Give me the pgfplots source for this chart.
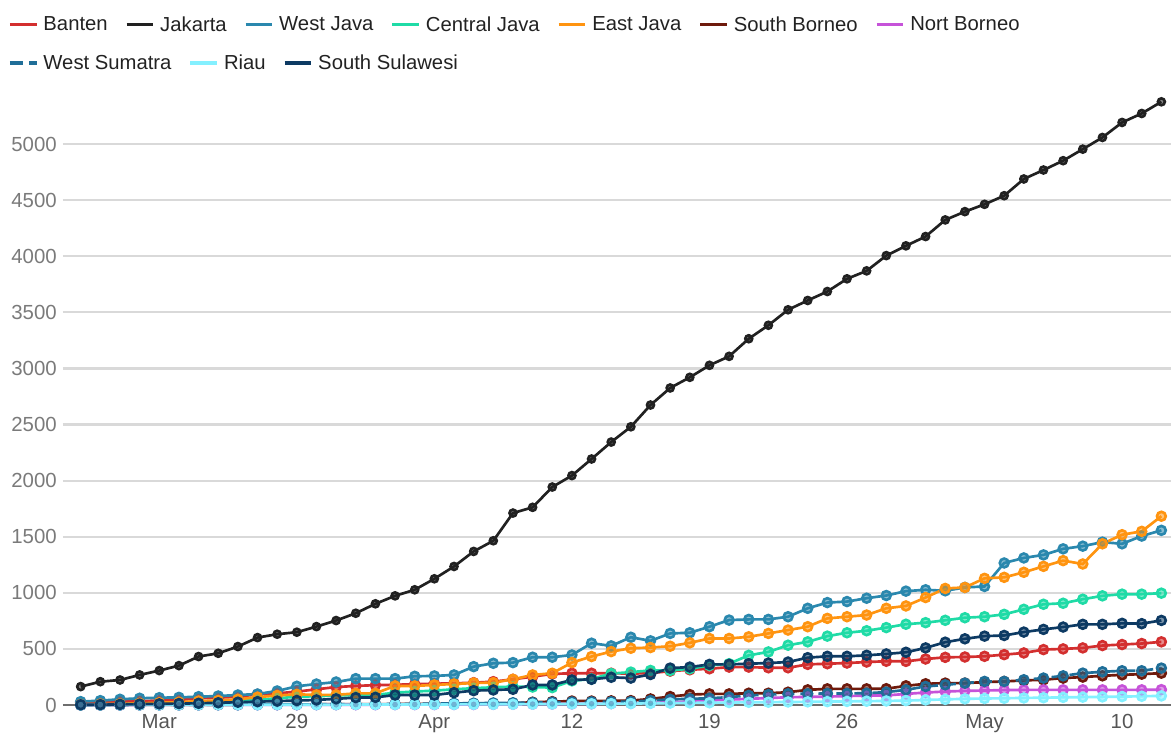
\documentclass[border=0pt]{standalone}
\usepackage{pgfplots}
\pgfplotsset{compat=1.18}
\usepackage{pgfplotstable}
\usepackage{fontspec}
\setmainfont{Liberation Sans}

\definecolor{cBanten}{HTML}{D32F2F}
\definecolor{cJakarta}{HTML}{212121}
\definecolor{cWJava}{HTML}{2A88AE}
\definecolor{cCJava}{HTML}{1FDBA6}
\definecolor{cEJava}{HTML}{FF9410}
\definecolor{cSBorneo}{HTML}{6E1A0C}
\definecolor{cNBorneo}{HTML}{C653D9}
\definecolor{cWSumatra}{HTML}{1F6E98}
\definecolor{cRiau}{HTML}{84F0FF}
\definecolor{cSSulawesi}{HTML}{0D3A63}
\definecolor{gridmajor}{HTML}{D9D9D9}
\definecolor{gridminor}{HTML}{E4E4E4}
\definecolor{axisgray}{HTML}{6E6E6E}
\definecolor{ylab}{HTML}{7A7A7A}
\definecolor{xlab}{HTML}{555555}
\definecolor{legtext}{HTML}{222222}

% day index 0 = 18 Mar
\pgfplotstableread{
d  B   J    WJ   CJ  EJ   SB  NB  WS  R   SS
0  21  164  30   2   5    0   0   0   0   2
1  25  208  39   5   8    0   0   0   0   3
2  30  223  51   8   10   1   0   0   1   5
3  35  268  60   10  15   1   1   1   1   8
4  39  307  65   12  20   2   1   1   1   10
5  45  351  68   15  25   2   1   1   1   13
6  60  432  74   20  35   2   1   2   1   15
7  65  461  80   25  40   3   2   3   2   20
8  74  521  89   35  51   3   2   3   2   25
9  95  601  98   45  70   4   2   4   2   30
10 104 631  125  60  85   5   2   5   3   35
11 119 649  167  74  95   5   2   5   3   40
12 140 699  187  78  90   6   3   6   3   45
13 160 753  205  85  90   6   3   7   3   55
14 170 818  235  89  104  7   3   8   4   66
15 177 902  235  89  104  8   3   8   4   68
16 180 973  235  110 170  8   4   9   4   89
17 186 1027 256  120 170  9   4   10  5   89
18 190 1125 259  128 179  10  4   12  5   89
19 193 1235 268  140 187  10  5   14  5   110
20 199 1369 342  150 196  11  5   16  6   128
21 208 1464 372  158 199  12  6   18  6   134
22 229 1711 378  164 229  15  7   20  7   140
23 253 1762 426  160 268  25  8   22  8   179
24 277 1943 426  155 283  30  9   25  9   179
25 283 2045 446  215 378  35  10  27  10  223
26 283 2193 551  232 432  35  11  28  11  229
27 283 2344 527  280 476  37  13  29  12  247
28 280 2480 604  293 506  39  15  30  13  240
29 284 2674 572  308 512  54  18  40  15  272
30 302 2826 638  308 524  75  25  50  17  329
31 314 2921 644  323 554  93  30  55  19  338
32 323 3028 698  353 593  99  40  60  20  362
33 338 3108 757  368 593  99  48  70  22  362
34 338 3265 763  443 608  105 55  85  24  368
35 332 3385 763  473 638  105 62  93  25  374
36 332 3523 787  533 668  114 69  100 27  383
37 362 3606 862  563 698  135 72  100 28  422
38 368 3686 913  614 772  144 75  103 30  434
39 374 3799 922  644 787  144 80  103 32  434
40 383 3870 952  662 802  144 84  105 34  443
41 390 4006 976  690 862  145 85  115 36  455
42 389 4093 1015 720 883  171 99  135 39  470
43 410 4176 1027 734 958  189 111 165 45  509
44 425 4324 1018 755 1039 195 120 180 50  560
45 428 4398 1048 778 1048 195 126 195 55  590
46 434 4463 1057 787 1129 204 129 210 58  614
47 449 4540 1266 808 1138 210 133 210 60  620
48 464 4689 1311 853 1183 219 135 225 63  650
49 494 4769 1338 898 1236 225 135 240 65  674
50 500 4852 1392 907 1287 240 135 260 68  695
51 509 4955 1416 943 1257 249 135 284 70  719
52 530 5059 1452 973 1437 260 135 296 72  719
53 539 5193 1437 988 1518 269 135 305 75  728
54 548 5273 1506 988 1548 275 135 305 78  725
55 563 5377 1557 997 1683 284 137 329 81  754
}\cases

\pgfplotsset{
  ser/.style={color=#1, line width=2pt, mark=*, mark size=3.3pt,
    mark options={solid, draw=none, fill=#1, fill opacity=0.55}},
  frame/.style={at={(0,0)}, anchor=south west, scale only axis,
    width=831pt, height=462.75pt},
  legbase/.style={legend style={at={(0,1)}, anchor=west, xshift=-41.25pt,
    draw=none, fill=none, inner sep=0pt, text=legtext,
    font=\fontsize{15.2}{18}\selectfont,
    /tikz/every odd column/.append style={column sep=2pt},
    /tikz/every even column/.append style={column sep=11pt}},
    legend image code/.code={\draw[##1, line width=2.4pt] (0pt,0pt) -- (20pt,0pt);}},
}

\begin{document}
\begin{tikzpicture}
\useasboundingbox (-47.25pt,-21pt) rectangle (831pt,528.75pt);
\begin{axis}[frame,
  xmin=-0.9, xmax=55.49, ymin=0, ymax=5500,
  axis x line*=bottom, axis y line*=left,
  y axis line style={draw=none},
  x axis line style={-, draw=axisgray, line width=1.6pt},
  major tick length=0pt,
  xtick={4,11,18,25,32,39,46,53},
  xticklabels={Mar,29,Apr,12,19,26,May,10},
  ytick={0,1000,...,5000},
  extra y ticks={500,1500,2500,3500,4500},
  ymajorgrids,
  major grid style={gridmajor, line width=1.6pt},
  extra y tick style={grid style={gridminor, line width=1.1pt}},
  /pgf/number format/assume math mode=true,
  /pgf/number format/1000 sep={},
  scaled y ticks=false,
  tick label style={font=\fontsize{15.3}{17}\selectfont},
  yticklabel style={text=ylab, inner sep=0pt, xshift=-4.5pt},
  xticklabel style={text=xlab, inner sep=0pt, yshift=-7pt},
  clip=false,
  legbase, legend style={yshift=47.5pt}, legend columns=7,
]
\addplot[ser=cBanten] table[x=d, y=B] {\cases};
\addplot[ser=cJakarta, mark size=2.6pt] table[x=d, y=J] {\cases};
\addplot[ser=cWJava] table[x=d, y=WJ] {\cases};
\addplot[ser=cCJava] table[x=d, y=CJ] {\cases};
\addplot[ser=cEJava] table[x=d, y=EJ] {\cases};
\addplot[ser=cSBorneo] table[x=d, y=SB] {\cases};
\addplot[ser=cNBorneo] table[x=d, y=NB] {\cases};
\addplot[ser=cWSumatra, dash pattern=on 9pt off 4.5pt, forget plot] table[x=d, y=WS] {\cases};
\addplot[ser=cRiau, forget plot] table[x=d, y=R] {\cases};
\addplot[ser=cSSulawesi, forget plot] table[x=d, y=SS] {\cases};
\legend{Banten, Jakarta, West Java, Central Java, East Java, South Borneo, Nort Borneo}
\end{axis}
% second legend row
\begin{axis}[frame, hide axis, xmin=0, xmax=1, ymin=0, ymax=1,
  legbase, legend style={yshift=18.75pt}, legend columns=3]
\addlegendimage{color=cWSumatra, dash pattern=on 9.5pt off 5pt on 6pt off 20pt}
\addlegendimage{color=cRiau}
\addlegendimage{color=cSSulawesi}
\legend{West Sumatra, Riau, South Sulawesi}
\end{axis}
\end{tikzpicture}
\end{document}
